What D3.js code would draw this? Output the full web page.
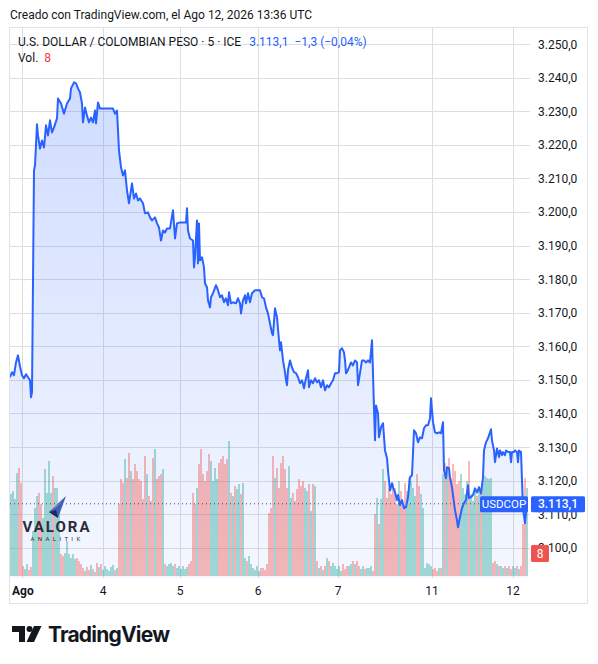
<!DOCTYPE html>
<html>
<head>
<meta charset="utf-8">
<script src="https://cdn.jsdelivr.net/npm/d3@7"></script>
<style>
body{margin:0;background:#fff;}
svg{display:block;font-family:Roboto,"Liberation Sans",sans-serif;}
</style>
</head>
<body>
<svg id="chart" width="598" height="664"></svg>
<script>
/*
USD/COP 5 min chart, Ago 3 - Ago 12.
Price as [bar, close] pairs, volume every 2 bars.
*/
var priceBars = [[0,3150.8],[2,3152.3],[4,3151.4],[6,3155.2],[8,3157.3],[10,3154.0],[12,3151.4],[14,3150.5],[16,3151.7],[18,3150.8],[20,3149.9],[21,3144.8],[22,3146.3],[24,3212.4],[25,3213.9],[27,3226.1],[28,3222.8],[30,3218.9],[32,3221.3],[34,3219.2],[36,3225.8],[38,3222.8],[40,3227.3],[42,3223.7],[44,3225.2],[47,3227.9],[48,3233.8],[51,3232.3],[54,3229.3],[57,3232.3],[60,3233.8],[61,3236.8],[64,3238.6],[66,3238.3],[68,3236.8],[70,3235.6],[72,3232.3],[73,3226.7],[75,3231.1],[77,3228.7],[79,3226.7],[81,3228.1],[83,3226.7],[85,3230.2],[86,3226.4],[88,3232.6],[90,3230.8],[95,3230.8],[103,3230.8],[105,3229.3],[107,3230.2],[108,3224.3],[109,3218.3],[111,3213.3],[113,3210.9],[115,3212.4],[117,3206.4],[119,3202.6],[122,3208.5],[124,3204.0],[126,3205.5],[128,3203.4],[130,3204.0],[133,3202.6],[135,3199.6],[138,3199.9],[140,3198.4],[142,3197.5],[145,3198.4],[147,3196.6],[149,3195.4],[151,3191.5],[153,3194.5],[155,3193.9],[157,3195.1],[160,3195.1],[163,3200.5],[165,3192.1],[167,3196.6],[170,3196.9],[174,3196.9],[176,3196.9],[177,3201.1],[178,3194.5],[180,3192.1],[183,3191.5],[184,3183.5],[185,3186.5],[187,3197.5],[188,3184.7],[189,3196.6],[190,3185.6],[192,3186.5],[194,3183.5],[195,3178.7],[197,3177.6],[198,3173.7],[200,3171.6],[201,3174.6],[203,3175.8],[206,3178.2],[208,3176.7],[210,3174.6],[212,3175.2],[214,3173.1],[216,3174.3],[218,3172.2],[219,3176.1],[221,3172.8],[223,3173.1],[226,3172.8],[228,3174.3],[230,3172.8],[231,3169.8],[233,3173.7],[235,3175.2],[236,3172.8],[238,3175.8],[240,3173.1],[242,3175.8],[245,3176.7],[247,3176.7],[250,3176.7],[252,3174.6],[254,3174.3],[256,3171.6],[258,3169.8],[260,3166.8],[262,3163.9],[263,3163.3],[265,3171.3],[267,3168.6],[269,3161.8],[270,3158.8],[271,3161.2],[273,3155.8],[275,3152.3],[276,3149.9],[277,3148.4],[278,3152.9],[280,3155.8],[282,3153.7],[284,3152.3],[286,3152.0],[288,3150.8],[290,3149.0],[292,3149.9],[294,3147.5],[296,3150.5],[298,3152.9],[299,3147.8],[301,3149.9],[303,3149.0],[305,3150.5],[307,3149.3],[309,3149.9],[311,3147.8],[313,3149.9],[315,3146.9],[317,3148.4],[319,3147.8],[321,3149.0],[323,3149.9],[325,3152.0],[327,3152.0],[329,3152.3],[330,3158.8],[332,3159.4],[334,3158.2],[335,3155.8],[336,3152.0],[337,3152.3],[339,3153.7],[341,3155.2],[343,3154.3],[345,3155.8],[347,3155.2],[348,3148.4],[350,3152.0],[352,3155.8],[354,3155.8],[356,3155.2],[358,3155.8],[360,3155.2],[362,3161.8],[363,3152.0],[364,3141.5],[365,3132.0],[366,3142.4],[368,3140.1],[369,3132.9],[371,3135.9],[373,3137.1],[375,3129.0],[377,3126.7],[378,3123.1],[380,3117.1],[382,3119.2],[383,3118.0],[385,3116.5],[387,3114.2],[388,3115.7],[390,3112.7],[392,3114.2],[394,3111.8],[396,3112.1],[398,3115.1],[400,3121.0],[402,3121.6],[404,3135.0],[406,3134.1],[408,3131.4],[410,3132.9],[412,3132.6],[414,3135.6],[416,3136.5],[418,3136.5],[420,3138.6],[421,3144.5],[423,3137.4],[425,3134.4],[427,3134.1],[429,3134.4],[431,3134.1],[433,3137.4],[434,3123.1],[436,3120.7],[437,3124.0],[439,3123.7],[440,3121.0],[442,3118.0],[443,3115.7],[445,3111.2],[447,3108.2],[448,3106.1],[450,3109.1],[452,3111.8],[454,3113.3],[456,3114.2],[458,3118.6],[459,3114.8],[461,3115.1],[463,3115.7],[465,3117.7],[467,3116.5],[469,3118.0],[471,3116.2],[473,3121.0],[474,3129.0],[476,3131.4],[478,3132.6],[481,3135.3],[482,3132.0],[484,3129.0],[485,3125.5],[487,3129.6],[489,3127.0],[490,3129.0],[492,3127.6],[493,3128.5],[495,3127.6],[496,3129.0],[498,3128.5],[500,3128.5],[501,3125.5],[502,3128.5],[504,3128.5],[505,3129.0],[507,3128.5],[508,3125.5],[509,3129.0],[511,3128.5],[512,3120.1],[513,3111.8],[515,3107.3],[516,3110.6],[517,3113.1]];

//one value per 2 bars, starting at bar 1
var volumes = [82,85,77,103,108,93,10,7,12,6,9,45,68,80,83,72,58,107,83,115,83,100,88,88,68,22,20,23,35,22,18,22,17,18,15,12,8,5,9,6,11,7,4,13,9,12,6,10,7,5,9,11,6,8,72,97,93,117,98,123,105,97,112,105,97,95,77,120,102,80,75,118,127,97,100,102,107,12,10,12,13,10,12,8,10,7,10,7,9,12,15,83,72,88,112,127,102,95,105,122,115,95,108,97,113,117,120,112,117,135,83,80,90,87,92,82,93,18,15,20,12,8,6,10,5,8,8,6,12,63,68,120,98,108,88,113,120,107,88,110,78,83,75,87,97,90,95,88,85,92,65,92,90,15,8,10,6,10,18,15,10,13,10,7,10,5,12,7,10,10,12,15,12,15,10,7,10,7,8,8,10,5,62,78,52,77,107,95,78,88,82,92,88,72,95,85,70,93,85,98,95,88,80,102,90,82,68,8,13,12,10,7,8,5,8,8,102,113,107,118,97,112,105,92,95,102,88,82,95,115,82,75,85,80,90,82,95,100,98,97,98,13,15,12,10,10,8,10,8,10,7,10,8,10,7,10,52,98,88];

var dayLabels = ["Ago", "4", "5", "6", "7", "11", "12"];
var dayBars = [12, 93, 170, 248, 328, 422, 503];

var priceTicks = [3100, 3110, 3120, 3130, 3140, 3150, 3160, 3170, 3180, 3190, 3200, 3210, 3220, 3230, 3240, 3250];

var lastPrice = 3113.1;
var lastVolume = 8;

var svg = d3.select("#chart");

//note: "top" is taken by window.top, so plot edges get a prefix
var plotL = 10, plotR = 530, plotT = 30, plotB = 578;

var x = d3.scaleLinear().domain([0, 520]).range([plotL, plotR]);
var y = d3.scaleLinear().domain([3091, 3254.2]).range([plotB, plotT]);
var yVol = d3.scaleLinear().domain([0, 140]).range([576, 436]);

var esLocale = d3.formatLocale({decimal: ",", thousands: ".", grouping: [3], currency: ["", ""]});
var fmt = esLocale.format(",.1f");

//card border
svg.append("rect")
	.attr("x", 9.5).attr("y", 27.5)
	.attr("width", 578).attr("height", 576)
	.attr("fill", "#fff")
	.attr("stroke", "#e0e3eb");

//grid
var grid = svg.append("g");
grid.selectAll("line.h")
	.data(priceTicks)
	.enter().append("line")
	.attr("x1", plotL).attr("x2", plotR)
	.attr("y1", function(d){ return Math.round(y(d)) + 0.5; })
	.attr("y2", function(d){ return Math.round(y(d)) + 0.5; })
	.attr("stroke", "#dedede");
grid.selectAll("line.v")
	.data(dayBars)
	.enter().append("line")
	.attr("x1", function(d){ return Math.round(x(d)) + 0.5; })
	.attr("x2", function(d){ return Math.round(x(d)) + 0.5; })
	.attr("y1", plotT - 3).attr("y2", plotB)
	.attr("stroke", "#dedede");

//clip for plot
svg.append("clipPath").attr("id", "plotclip")
	.append("rect").attr("x", plotL).attr("y", plotT - 3)
	.attr("width", plotR - plotL).attr("height", plotB - plotT + 3);

var defs = svg.append("defs");
var grad = defs.append("linearGradient").attr("id", "areagrad")
	.attr("x1", 0).attr("y1", 0).attr("x2", 0).attr("y2", 1);
grad.append("stop").attr("offset", "0%").attr("stop-color", "#2962ff").attr("stop-opacity", 0.22);
grad.append("stop").attr("offset", "100%").attr("stop-color", "#2962ff").attr("stop-opacity", 0.05);

var plot = svg.append("g").attr("clip-path", "url(#plotclip)");

var area = d3.area()
	.x(function(d){ return x(d[0]); })
	.y0(plotB)
	.y1(function(d){ return y(d[1]); });

plot.append("path")
	.datum(priceBars)
	.attr("d", area)
	.attr("fill", "url(#areagrad)");

//price at any bar, for the volume colours
var bis = d3.bisector(function(d){ return d[0]; }).left;
function priceAt(b){
	var i = bis(priceBars, b);
	if (i <= 0) return priceBars[0][1];
	if (i >= priceBars.length) return priceBars[priceBars.length - 1][1];
	var a = priceBars[i - 1], c = priceBars[i];
	return a[1] + (c[1] - a[1]) * (b - a[0]) / (c[0] - a[0]);
}

plot.selectAll("rect.vol")
	.data(volumes)
	.enter().append("rect")
	.attr("x", function(d, i){ return x(2 * i + 1) - 0.8; })
	.attr("width", 1.6)
	.attr("y", function(d){ return yVol(d); })
	.attr("height", function(d){ return yVol(0) - yVol(d); })
	.attr("fill", function(d, i){
		var b = 2 * i + 1;
		return priceAt(b) >= priceAt(b - 2) ? "rgba(38,166,154,0.5)" : "rgba(239,83,80,0.5)";
	});

//last price dotted line
plot.append("line")
	.attr("x1", plotL).attr("x2", plotR)
	.attr("y1", y(lastPrice)).attr("y2", y(lastPrice))
	.attr("stroke", "#434651")
	.attr("stroke-width", 1)
	.attr("stroke-dasharray", "1,3");

var line = d3.line()
	.x(function(d){ return x(d[0]); })
	.y(function(d){ return y(d[1]); });

plot.append("path")
	.datum(priceBars)
	.attr("d", line)
	.attr("fill", "none")
	.attr("stroke", "#2962ff")
	.attr("stroke-width", 2)
	.attr("stroke-linejoin", "round");

//watermark Valora Analitik
var wm = svg.append("g");
wm.append("path").attr("d", "M49,512 L66,496 L58,518 Z").attr("fill", "#3d5fb8");
wm.append("path").attr("d", "M51,511 L62,502 L56,506 Z").attr("fill", "#9fb3e6");
wm.append("path").attr("d", "M49,512 L56,510 L58,518 Z").attr("fill", "#1c2a5c");
wm.append("text").attr("x", 57).attr("y", 532)
	.attr("text-anchor", "middle")
	.attr("font-size", 15).attr("font-weight", 700)
	.attr("letter-spacing", 2)
	.attr("fill", "#2b2b38")
	.text("VALORA");
wm.append("text").attr("x", 57).attr("y", 541)
	.attr("text-anchor", "middle")
	.attr("font-size", 6)
	.attr("letter-spacing", 3.4)
	.attr("fill", "#2b2b38")
	.text("ANALITIK");

//y axis labels
svg.append("g").selectAll("text")
	.data(priceTicks)
	.enter().append("text")
	.attr("x", 538)
	.attr("y", function(d){ return y(d) + 4.5; })
	.attr("font-size", 12)
	.attr("fill", "#131722")
	.text(function(d){ return fmt(d); });

//x axis labels
svg.append("g").selectAll("text")
	.data(dayBars)
	.enter().append("text")
	.attr("x", function(d, i){ return i === 0 ? x(d) - 10 : x(d); })
	.attr("y", 595)
	.attr("text-anchor", function(d, i){ return i === 0 ? "start" : "middle"; })
	.attr("font-size", 12)
	.attr("font-weight", function(d, i){ return i === 0 ? 700 : 400; })
	.attr("fill", "#131722")
	.text(function(d, i){ return dayLabels[i]; });

//badges
var by = y(lastPrice);
svg.append("rect").attr("x", 480).attr("y", by - 7.5).attr("width", 48).attr("height", 16)
	.attr("rx", 1.5).attr("fill", "#2962ff");
svg.append("text").attr("x", 504).attr("y", by + 4.5).attr("text-anchor", "middle")
	.attr("font-size", 11.5).attr("fill", "#fff").text("USDCOP");
svg.append("rect").attr("x", 531).attr("y", by - 7.5).attr("width", 54).attr("height", 16)
	.attr("rx", 1.5).attr("fill", "#2962ff");
svg.append("text").attr("x", 558).attr("y", by + 4.5).attr("text-anchor", "middle")
	.attr("font-size", 12).attr("font-weight", 500).attr("fill", "#fff").text(fmt(lastPrice));
svg.append("rect").attr("x", 531).attr("y", 545).attr("width", 18).attr("height", 17)
	.attr("rx", 1.5).attr("fill", "#ef5350");
svg.append("text").attr("x", 540).attr("y", 558).attr("text-anchor", "middle")
	.attr("font-size", 12).attr("fill", "#fff").text(lastVolume);

//header texts
svg.append("text").attr("x", 10).attr("y", 19)
	.attr("font-size", 12).attr("fill", "#131722")
	.text("Creado con TradingView.com, el Ago 12, 2026 13:36 UTC");

var legend = svg.append("text").attr("x", 18).attr("y", 46)
	.attr("font-size", 12).attr("fill", "#131722");
legend.append("tspan").text("U.S. DOLLAR / COLOMBIAN PESO · 5 · ICE");
legend.append("tspan").attr("dx", 8).attr("fill", "#2962ff").text(fmt(lastPrice));
legend.append("tspan").attr("dx", 6).attr("fill", "#2962ff").text("−1,3 (−0,04%)");

var vol = svg.append("text").attr("x", 18).attr("y", 62)
	.attr("font-size", 12).attr("fill", "#131722");
vol.append("tspan").text("Vol.");
vol.append("tspan").attr("dx", 6).attr("fill", "#f23645").text(lastVolume);

//TradingView logo
var logo = svg.append("g").attr("fill", "#131722");
logo.append("path").attr("d", "M12,626 H25 V642 H19 V632 H12 Z");
logo.append("circle").attr("cx", 29.5).attr("cy", 629).attr("r", 3);
logo.append("path").attr("d", "M34,626 H41.5 L34,642 H26.5 Z");
logo.append("text").attr("x", 48).attr("y", 642)
	.attr("font-size", 21).attr("font-weight", 700)
	.attr("font-family", "Inter, Roboto, sans-serif")
	.attr("textLength", 122)
	.text("TradingView");
</script>
</body>
</html>
